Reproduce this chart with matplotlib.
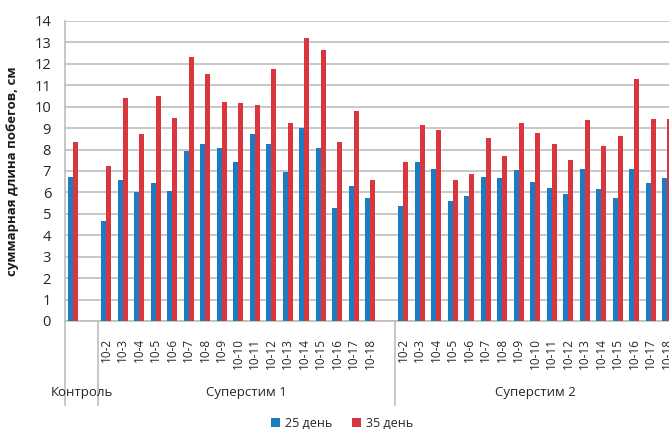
import matplotlib
matplotlib.use("Agg")
import matplotlib.pyplot as plt
import numpy as np
from matplotlib.transforms import blended_transform_factory

plt.rcParams['font.family'] = ['Open Sans', 'DejaVu Sans']

# Groups of the category axis and their sub-labels ('' = blank slot)
groups = ["Контроль", "Суперстим 1", "Суперстим 2"]
variants = ["10-2", "10-3", "10-4", "10-5", "10-6", "10-7", "10-8", "10-9", "10-10",
            "10-11", "10-12", "10-13", "10-14", "10-15", "10-16", "10-17", "10-18"]
control_labels = ["", ""]
group1_labels = variants + [""]
group2_labels = variants

# Shoot length, cm
control_25 = [6.73, np.nan]
control_35 = [8.37, np.nan]
s1_25 = [4.67, 6.58, 6.03, 6.45, 6.08, 7.93, 8.24, 8.09, 7.43, 8.73, 8.24, 6.94, 9.00,
         8.09, 5.29, 6.30, 5.72, np.nan]
s1_35 = [7.25, 10.39, 8.71, 10.50, 9.49, 12.30, 11.53, 10.22, 10.19, 10.06, 11.74, 9.22,
         13.19, 12.65, 8.37, 9.80, 6.58, np.nan]
s2_25 = [5.38, 7.43, 7.08, 5.61, 5.83, 6.73, 6.66, 7.03, 6.50, 6.22, 5.93, 7.08, 6.14,
         5.72, 7.08, 6.44, 6.66]
s2_35 = [7.40, 9.13, 8.91, 6.58, 6.87, 8.55, 7.71, 9.25, 8.79, 8.24, 7.51, 9.36, 8.18,
         8.65, 11.28, 9.43, 9.43]

series_labels = ["25 день", "35 день"]
blue = "#1c7cc2"
red = "#d9363e"
text_color = "#262626"

labels = control_labels + group1_labels + group2_labels
v25 = np.array(control_25 + s1_25 + s2_25, dtype=float)
v35 = np.array(control_35 + s1_35 + s2_35, dtype=float)
group_sizes = [len(control_labels), len(group1_labels), len(group2_labels)]
n = len(labels)
x = np.arange(n)

W, H = 669, 432
fig = plt.figure(figsize=(W / 100, H / 100), dpi=100)
cat_px = 16.5
ax = fig.add_axes([65 / W, (H - 321) / H, n * cat_px / W, 300 / H])

bw = 0.3
b1 = ax.bar(x - bw / 2, v25, width=bw, color=blue, zorder=3, label=series_labels[0])
b2 = ax.bar(x + bw / 2, v35, width=bw, color=red, zorder=3, label=series_labels[1])

ax.set_xlim(-0.5, n - 0.5)
ax.set_ylim(0, 14)
ax.set_yticks(np.arange(0, 15, 1))
ax.yaxis.grid(True, color="#c4c4c4", linewidth=1.3, zorder=0)
ax.set_axisbelow(True)
for s in ["top", "right"]:
    ax.spines[s].set_visible(False)
for s in ["left", "bottom"]:
    ax.spines[s].set_color("#bdbdbd")
    ax.spines[s].set_linewidth(1.2)
ax.tick_params(axis="y", length=0, pad=10, labelsize=10.5, labelcolor=text_color)
ax.set_xticks(x)
ax.set_xticklabels(labels, rotation=90, fontsize=8.5, color=text_color)
ax.tick_params(axis="x", length=0, pad=12)

ax.set_ylabel("суммарная длина побегов, см", fontsize=9.5, fontweight="bold",
              color="#1a1a1a", labelpad=11)

# Group separators and group captions below the tick labels
trans = blended_transform_factory(ax.transData, ax.transAxes)
edges = np.concatenate([[0], np.cumsum(group_sizes)]) - 0.5
for e in edges[:-1]:
    ax.plot([e, e], [0, -0.28], transform=trans, color="#bdbdbd", lw=1.2,
            clip_on=False)
for g, a, b in zip(groups, edges[:-1], edges[1:]):
    ax.text((a + b) / 2, -0.237, g, transform=trans, ha="center", va="center",
            fontsize=9.5, color=text_color)

fig.legend(handles=[b1, b2], labels=series_labels, loc="center",
           bbox_to_anchor=(342 / W, 1 - 423 / H), ncol=2, frameon=False,
           fontsize=9, handlelength=0.7, handleheight=0.7, handletextpad=0.4,
           columnspacing=1.6, labelcolor=text_color)

fig.savefig("out.png", dpi=100)
